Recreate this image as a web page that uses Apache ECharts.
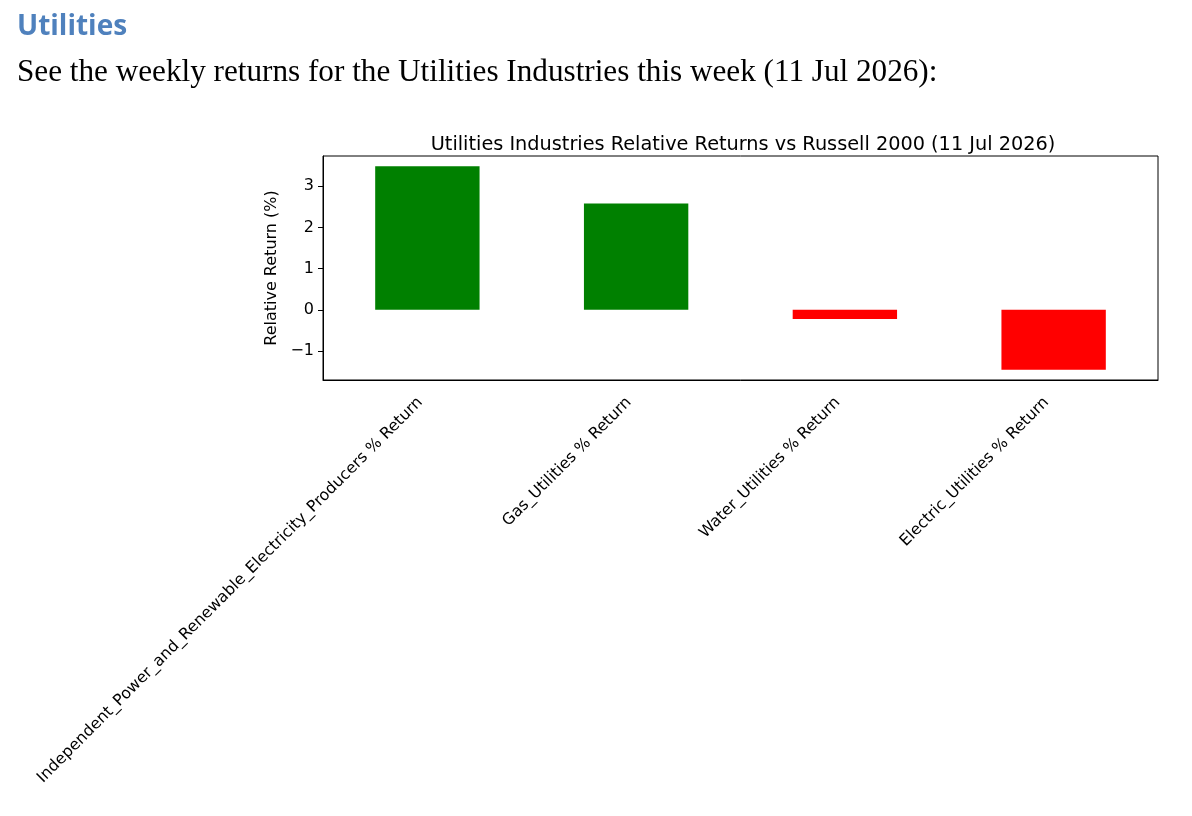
<!DOCTYPE html>
<html>
<head>
<meta charset="utf-8">
<script src="https://cdn.jsdelivr.net/npm/echarts@6/dist/echarts.min.js"></script>
<style>
html,body{margin:0;padding:0;background:#fff;}
#chart{width:1192px;height:816px;}
</style>
</head>
<body>
<div id="chart"></div>
<script>
const categories = [
  'Independent_Power_and_Renewable_Electricity_Producers % Return',
  'Gas_Utilities % Return',
  'Water_Utilities % Return',
  'Electric_Utilities % Return'
];
const relativeReturns = [3.48, 2.58, -0.22, -1.45];
const yTickValues = [-1, 0, 1, 2, 3];
const headingText = 'Utilities';
const introText = 'See the weekly returns for the Utilities Industries this week (11 Jul 2026):';
const chartTitle = 'Utilities Industries Relative Returns vs Russell 2000 (11 Jul 2026)';
const yAxisTitle = 'Relative Return (%)';

const chart = echarts.init(document.getElementById('chart'), null, {renderer: 'canvas'});
const fmt = v => v < 0 ? '\u2212' + Math.abs(v) : String(v);
const grid = {left: 323, right: 34, top: 156, bottom: 436};

chart.setOption({
  backgroundColor: '#ffffff',
  animation: false,
  graphic: [
    {type: 'text', left: 17, top: 13, style: {text: headingText, fill: '#4f81bd', font: 'bold 28px "Open Sans"'}},
    {type: 'text', left: 17, top: 57, style: {text: introText, fill: '#000', font: '31.2px "Liberation Serif"'}}
  ],
  title: {
    text: chartTitle,
    left: 738, top: 130, textAlign: 'center',
    textStyle: {fontFamily: 'DejaVu Sans', fontSize: 19.3, fontWeight: 'normal', color: '#000'}
  },
  grid: Object.assign({show: true, borderColor: '#000', borderWidth: 1, backgroundColor: 'transparent', containLabel: false}, grid),
  xAxis: {
    type: 'category',
    data: categories,
    boundaryGap: true,
    axisLine: {onZero: false, lineStyle: {color: '#000', width: 1}},
    axisTick: {alignWithLabel: true, length: 5, lineStyle: {color: '#000'}},
    axisLabel: {rotate: 45, interval: 0, margin: 13, padding: [0, 10, 0, 0], color: '#000', fontFamily: 'DejaVu Sans', fontSize: 15.8},
    splitLine: {show: false}
  },
  yAxis: {
    type: 'value',
    min: -1.70, max: 3.73,
    name: yAxisTitle,
    nameLocation: 'middle',
    nameGap: 40,
    nameRotate: 90,
    nameTextStyle: {fontFamily: 'DejaVu Sans', fontSize: 16, color: '#000'},
    axisLine: {show: true, lineStyle: {color: '#000', width: 1}},
    axisTick: {show: true, length: 5, lineStyle: {color: '#000'}, customValues: yTickValues},
    axisLabel: {color: '#000', fontFamily: 'DejaVu Sans', fontSize: 16, margin: 9, customValues: yTickValues, formatter: fmt},
    splitLine: {show: false}
  },
  series: [{
    type: 'bar',
    data: relativeReturns,
    barWidth: '50%',
    itemStyle: {color: p => p.value >= 0 ? '#008000' : '#ff0000'}
  }]
});
</script>
</body>
</html>
